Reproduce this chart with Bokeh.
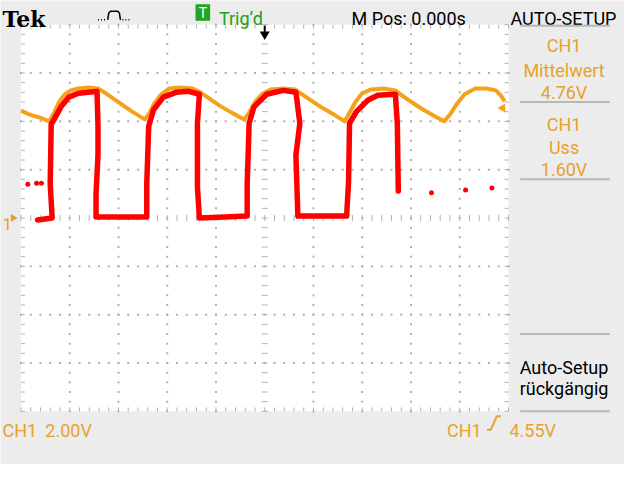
import numpy as np
from bokeh.plotting import figure
from bokeh.models import Range1d
from bokeh.core.properties import value
from bokeh.embed import file_html
from bokeh.resources import INLINE

# ---------------- data (time in divisions, CH1 in volts) ----------------
ch1_t = [-5.00, -4.82, -4.62, -4.42, -4.32, -4.22, -4.10, -3.98, -3.82, -3.62,
         -3.42, -3.32, -3.12, -2.92, -2.72, -2.46, -2.36, -2.26, -2.12, -1.96,
         -1.72, -1.48, -1.32, -1.12, -0.92, -0.68, -0.42, -0.32, -0.20, -0.06,
         0.12, 0.38, 0.62, 0.74, 0.94, 1.18, 1.42, 1.64, 1.74, 1.86,
         2.00, 2.18, 2.44, 2.68, 2.78, 2.98, 3.22, 3.46, 3.68, 3.80,
         3.94, 4.10, 4.32, 4.54, 4.74, 4.84, 4.92]
ch1_v = [4.44, 4.28, 4.16, 4.00, 4.36, 4.80, 5.12, 5.28, 5.36, 5.40,
         5.36, 5.24, 4.96, 4.68, 4.40, 4.08, 4.36, 4.76, 5.12, 5.36,
         5.40, 5.36, 5.20, 4.92, 4.64, 4.36, 4.08, 4.36, 4.80, 5.12,
         5.32, 5.36, 5.32, 5.16, 4.88, 4.56, 4.28, 4.00, 4.36, 4.80,
         5.16, 5.32, 5.36, 5.28, 5.12, 4.84, 4.52, 4.24, 4.00, 4.28,
         4.72, 5.12, 5.36, 5.36, 5.28, 5.08, 4.84]

# hand-drawn red marker stroke
pen_t = [-4.66, -4.36, -4.40, -4.38, -4.32, -4.18, -4.02, -3.82, -3.62, -3.44,
         -3.42, -3.42, -3.46, -3.46, -3.02, -2.42, -2.42, -2.38, -2.28, -2.08,
         -1.82, -1.56, -1.34, -1.38, -1.38, -1.34, -0.82, -0.36, -0.36, -0.34,
         -0.32, -0.22, 0.04, 0.38, 0.64, 0.72, 0.64, 0.68, 1.18, 1.68,
         1.72, 1.74, 1.88, 2.12, 2.32, 2.68, 2.72, 2.74]
pen_v = [-0.08, 0.00, 1.40, 3.88, 4.08, 4.60, 5.00, 5.16, 5.20, 5.24,
         3.80, 2.60, 1.00, 0.04, 0.04, 0.04, 1.40, 3.80, 4.48, 5.00,
         5.20, 5.24, 5.12, 3.92, 1.28, 0.00, 0.04, 0.08, 1.40, 2.60,
         3.92, 4.60, 5.12, 5.28, 5.20, 3.92, 2.60, 0.08, 0.08, 0.08,
         1.52, 3.92, 4.40, 4.88, 5.08, 5.12, 3.92, 1.12]
pen_dot_t = [-4.86, -4.68, -4.58, 3.42, 4.12, 4.66]
pen_dot_v = [1.40, 1.44, 1.44, 1.04, 1.16, 1.24]

volts_per_div = "2.00V"
mean_label = "4.76V"
pkpk_label = "1.60V"
trig_level = 4.55
trig_label = "4.55V"

# ---------------- layout helpers (reference pixel -> data) ----------------
W, H = 624, 464
X0, PX_DIV = 271, 50
Y0, PX_V = 225, 25


def tx(X):
    return (X - X0) / PX_DIV


def vy(Y):
    return (Y0 - Y) / PX_V


BG = "#ececec"
ORANGE_TXT = "#e6a12e"
ORANGE = "#f5a21b"
GRID = "#b0b0b0"

p = figure(width=W, height=H, x_range=Range1d(tx(0), tx(640)),
           y_range=Range1d(vy(480), vy(0)), output_backend="svg",
           toolbar_location=None, min_border=0, x_axis_location=None,
           y_axis_location=None, background_fill_color=BG,
           border_fill_color=BG, outline_line_color=None)
p.grid.visible = False

# graticule
p.quad(left=[-5], right=[5], bottom=[-8], top=[8], fill_color="white",
       line_color=None)

dx, dy = [], []
for gx in range(-4, 5):
    if gx == 0:
        continue
    for gy in np.arange(-8, 8.001, 0.4):
        dx.append(gx); dy.append(gy)
for gy in range(-6, 7, 2):
    if gy == 0:
        continue
    for gx in np.arange(-5, 5.001, 0.2):
        dx.append(gx); dy.append(gy)
p.scatter(dx, dy, marker="square", size=2, fill_color=GRID, line_color=None)

x0s, y0s, x1s, y1s = [], [], [], []
tl_x = 4 / PX_DIV
tl_y = 4 / PX_V
for gx in np.arange(-5, 5.001, 0.2):
    x0s += [gx, gx, gx]; x1s += [gx, gx, gx]
    y0s += [8, -8, -0.12]; y1s += [8 - tl_y, -8 + tl_y, 0.12]
for gy in np.arange(-8, 8.001, 0.4):
    y0s += [gy, gy, gy]; y1s += [gy, gy, gy]
    x0s += [-5, 5, -0.06]; x1s += [-5 + tl_x, 5 - tl_x, 0.06]
p.segment(x0s, y0s, x1s, y1s, line_color=GRID, line_width=1)

# traces
p.line(ch1_t, ch1_v, line_color=ORANGE, line_width=4, line_join="round")
p.line(pen_t, pen_v, line_color="#ff0000", line_width=5.5,
       line_join="round", line_cap="round")
p.scatter(pen_dot_t, pen_dot_v, size=5, fill_color="#ff0000",
          line_color=None)

# markers: ground, trigger position, trigger level
p.scatter([tx(13)], [0], marker="triangle", angle=-np.pi / 2, size=8,
          fill_color=ORANGE_TXT, line_color=None)
p.segment([0], [vy(26)], [0], [vy(34)], line_color="black", line_width=2)
p.scatter([0], [vy(35)], marker="inverted_triangle", size=10,
          fill_color="black", line_color=None)
p.scatter([tx(515)], [trig_level], marker="triangle", angle=np.pi / 2,
          size=9, fill_color=ORANGE, line_color=None)


def label(X, Y, s, size, color, align="left", font="Roboto",
          style="normal", baseline="alphabetic"):
    p.text(x=[tx(X)], y=[vy(Y)], text=[s], text_font=value(font),
           text_font_size=f"{size}px", text_color=color, text_align=align,
           text_baseline=baseline, text_font_style=style)


# header
label(2, 19, "Tek", 22, "black", font="DejaVu Serif", style="bold")
p.line([tx(100), tx(109)], [vy(20), vy(20)], line_color="black",
       line_width=1.5, line_dash="1 2")
p.line([tx(110), tx(111), tx(113), tx(120), tx(122), tx(123)],
       [vy(20), vy(13), vy(11), vy(11), vy(13), vy(20)],
       line_color="black", line_width=1.5)
p.line([tx(125), tx(134)], [vy(20), vy(20)], line_color="black",
       line_width=1.5, line_dash="1 2")
p.quad(left=[tx(200)], right=[tx(215)], top=[vy(4)], bottom=[vy(21)],
       fill_color="#1fa51f", line_color=None)
label(207.5, 12.5, "T", 14, "white", align="center", baseline="middle")
label(224, 19, "Trig\u2019d", 18, "#22a022")
label(360, 19, "M Pos: 0.000s", 18, "black")
label(523, 19, "AUTO-SETUP", 18, "black")

# right panel
for Ys in (26, 105, 185, 345, 425):
    p.segment([tx(533)], [vy(Ys)], [tx(625)], [vy(Ys)], line_color="#b8b8b8",
              line_width=2)
label(578, 47, "CH1", 18, ORANGE_TXT, align="center")
label(578, 72, "Mittelwert", 18, ORANGE_TXT, align="center")
label(578, 95, mean_label, 18, ORANGE_TXT, align="center")
label(578, 128, "CH1", 18, ORANGE_TXT, align="center")
label(578, 152, "Uss", 18, ORANGE_TXT, align="center")
label(578, 175, pkpk_label, 18, ORANGE_TXT, align="center")
label(578, 380, "Auto-Setup", 18, "black", align="center")
label(578, 401, "r\u00fcckg\u00e4ngig", 18, "black", align="center")

# bottom status line
label(2, 231, "1", 17, ORANGE_TXT)
label(2, 445, "CH1", 18, ORANGE_TXT)
label(46, 445, volts_per_div, 18, ORANGE_TXT)
label(458, 445, "CH1", 18, ORANGE_TXT)
p.line([tx(499), tx(503), tx(509), tx(513)],
       [vy(444), vy(444), vy(430), vy(430)], line_color=ORANGE_TXT,
       line_width=2)
label(522, 445, trig_label, 18, ORANGE_TXT)

open("out.html", "w").write(file_html(p, INLINE))
